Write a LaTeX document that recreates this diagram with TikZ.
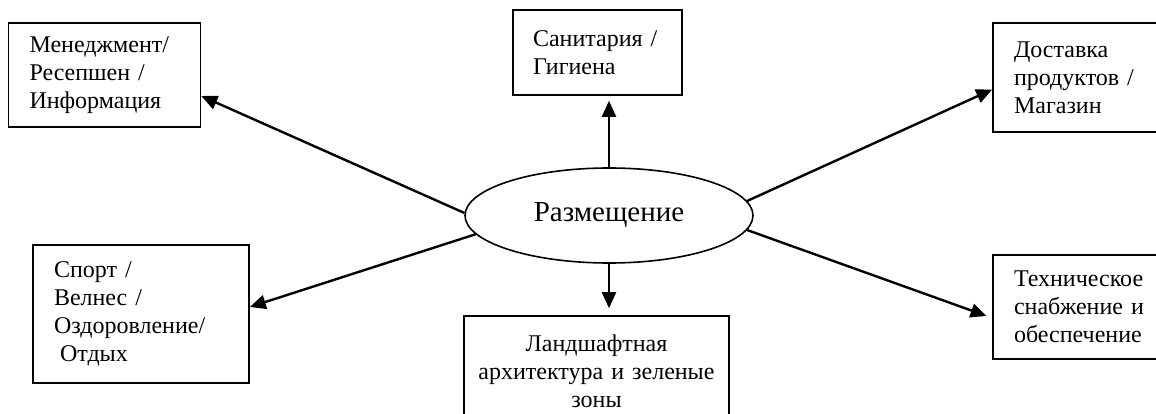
\documentclass[tikz,border=0pt]{standalone}
\usepackage{fontspec}
\setmainfont{Liberation Serif}
\usetikzlibrary{arrows.meta,shapes.geometric}

\begin{document}
\begin{tikzpicture}[x=1pt, y=-1pt,
    box/.style={draw, line width=1.6pt, inner xsep=21pt, inner ysep=0pt,
        align=left, font=\fontsize{24}{28}\selectfont},
    arr/.style={line width=2.4pt, -{Triangle[length=16pt,width=14pt]}}]
    \useasboundingbox (0,0) rectangle (1156,414);
    \clip (0,0) rectangle (1156,414);

    % Zentrum
    \node[draw, ellipse, line width=1.6pt, inner sep=0pt, minimum width=288pt,
        minimum height=95pt, font=\fontsize{29}{34}\selectfont] (place) at (609,215.5) {Размещение};

    % Bereiche
    \node[box, text width=150pt, minimum height=104pt] (mgmt) at (104.5,75)
        {Менеджмент/\\Ресепшен /\\Информация};
    \node[box, text width=129pt, inner xsep=20pt, minimum height=85pt] (sanit) at (597.5,52.5)
        {Санитария /\\Гигиена};
    \node[box, text width=130pt, minimum height=109pt] (shop) at (1079,77.5)
        {Доставка\\продуктов /\\Магазин};
    \node[box, text width=174pt, minimum height=138pt] (sport) at (141,314)
        {Спорт /\\Велнес /\\Оздоровление/\\\hspace*{6pt}Отдых};
    \node[box, text width=245pt, inner xsep=10pt, align=center, minimum height=110pt] (land) at (596.5,371)
        {Ландшафтная\\архитектура и зеленые\\зоны};
    \node[box, text width=130pt, minimum height=104pt] (tech) at (1079,307)
        {Техническое\\снабжение и\\обеспечение};

    % Pfeile
    \draw[arr] (place.north) -- ([yshift=-5pt]place.north |- sanit.south);
    \draw[arr] (place.south) -- ([yshift=7pt]place.south |- land.north);
    \draw[arr] (place.179) -- ([yshift=-21pt]mgmt.east);
    \draw[arr] (place.188) -- ([yshift=7pt]sport.east);
    \draw[arr] (place.6) -- ([yshift=-12pt]shop.west);
    \draw[arr, shorten >=6pt] (place.-6) -- ([yshift=-11pt]tech.west);
\end{tikzpicture}
\end{document}
